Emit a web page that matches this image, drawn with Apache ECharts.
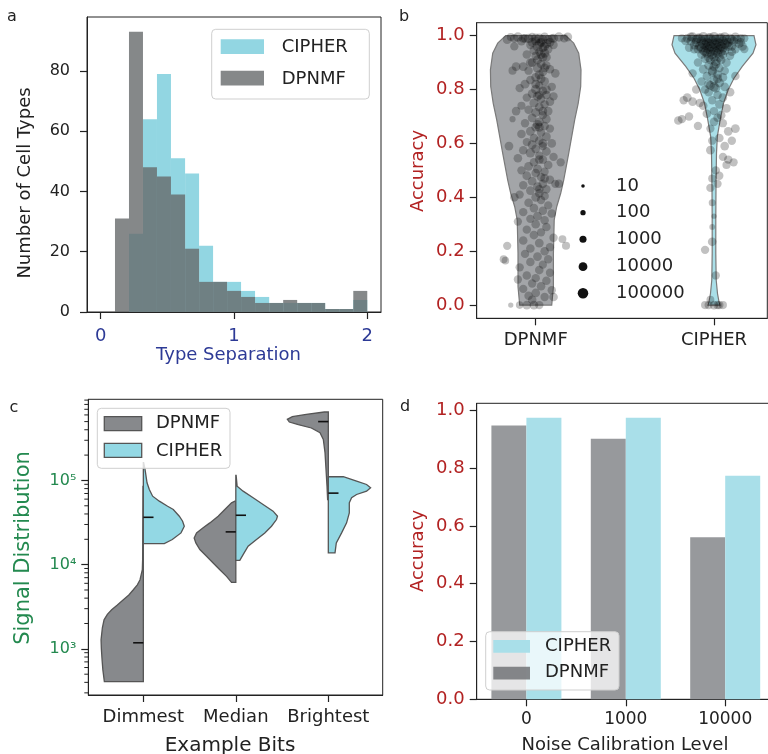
<!DOCTYPE html>
<html><head><meta charset="utf-8">
<script src="https://cdn.jsdelivr.net/npm/echarts@6/dist/echarts.min.js"></script>
<style>html,body{margin:0;padding:0;background:#fff}#c{width:768px;height:754px}</style>
</head><body><div id="c"></div><script>
// ---------- Panel a: histogram of type separation ----------
const histEdges = [0.107,0.212,0.317,0.422,0.527,0.633,0.738,0.843,0.948,1.053,1.158,1.264,1.369,1.474,1.579,1.684,1.789,1.895,2.0];
const histCIPHER = [0,26,64,79,51,46,22,10,10,7,5,3,3,3,3,1,1,4];
const histDPNMF  = [31,93,48,45,39,21,10,10,7,5,3,3,4,3,3,1,1,7];
const histXTicks = [0,1,2];
const histYTicks = [0,20,40,60,80];

// ---------- Panel b: accuracy violins + cell-type points ----------
const violinCats = ['DPNMF','CIPHER'];
const accTicks = [0,0.2,0.4,0.6,0.8,1.0];
// [accuracy, relative half width]
const violinDPNMF = [[0,16],[0.068,17.7],[0.192,17.7],[0.316,18.5],[0.365,21],[0.415,25],[0.464,28],[0.563,33],[0.625,36],[0.687,39],[0.749,42.5],[0.811,45],[0.873,45.3],[0.935,43],[0.972,38],[1.0,30]];
const violinCIPHER = [[0,6],[0.012,5],[0.043,3.5],[0.093,2.2],[0.192,1.8],[0.316,1.8],[0.44,2],[0.563,2.5],[0.625,3.3],[0.687,6.2],[0.749,9.5],[0.799,14.2],[0.842,20],[0.886,28.3],[0.935,39],[0.966,42],[1.0,40]];
// [jitter, accuracy, cells]
const pointsDPNMF = [
[-0.14,0.995,3000],[-0.10,0.995,20000],[-0.06,0.99,8000],[-0.02,0.995,5000],[0.02,0.99,30000],[0.05,0.995,10000],[0.09,0.99,4000],[0.13,0.995,20000],[0.16,0.99,6000],[-0.08,0.98,10000],[0.0,0.98,15000],[0.03,0.975,8000],[0.06,0.97,20000],[-0.03,0.965,6000],[0.01,0.96,40000],[0.04,0.955,10000],[0.07,0.95,8000],[-0.01,0.945,12000],[0.02,0.94,5000],[0.05,0.935,20000],[-0.05,0.93,7000],[0.0,0.925,9000],[0.04,0.92,15000],[-0.12,0.96,5000],[0.1,0.965,6000],[-0.02,0.9,8000],[0.03,0.895,12000],[0.06,0.89,5000],[-0.07,0.885,10000],[0.01,0.88,20000],[0.08,0.875,7000],[-0.11,0.885,10000],[-0.04,0.87,6000],[0.04,0.865,9000],[0.02,0.855,15000],[-0.13,0.87,4000],[0.11,0.86,8000],[0.0,0.845,10000],
[-0.04,0.99,20000],[0.0,0.99,30000],[0.04,0.985,20000],[0.07,0.985,15000],[-0.07,0.99,10000],[0.02,0.97,20000],[0.05,0.96,15000],[-0.02,0.975,15000],[0.08,0.975,10000],[0.03,0.93,15000],[0.06,0.92,10000],[0.01,0.91,15000],[-0.03,0.9,10000],[0.05,0.88,10000],[0.1,0.99,15000],[-0.12,0.99,8000],[0.18,0.995,10000],[-0.16,0.985,10000],
[-0.03,0.835,7000],[0.05,0.83,9000],[-0.06,0.82,12000],[0.02,0.815,5000],[0.09,0.81,6000],[0.0,0.8,20000],[-0.09,0.805,5000],[0.04,0.795,8000],[0.03,0.84,12000],[0.0,0.82,10000],[0.06,0.8,10000],
[-0.02,0.785,10000],[0.06,0.78,7000],[0.01,0.775,12000],[0.1,0.775,5000],[-0.05,0.77,6000],[0.03,0.765,9000],[0.08,0.755,8000],[-0.01,0.75,15000],[0.05,0.745,6000],[-0.08,0.74,4000],[0.02,0.735,10000],[-0.04,0.725,7000],[0.07,0.72,9000],[0.0,0.715,12000],[-0.11,0.72,8000],[0.04,0.705,6000],[0.02,0.78,12000],[0.04,0.72,10000],
[-0.02,0.695,10000],[0.06,0.69,8000],[0.02,0.68,12000],[-0.06,0.675,6000],[0.01,0.67,20000],[0.05,0.665,7000],[-0.13,0.69,300],[0.0,0.66,9000],[0.08,0.655,5000],[-0.03,0.645,11000],[0.03,0.64,6000],[-0.08,0.635,8000],[0.06,0.625,10000],[-0.01,0.62,7000],[0.02,0.61,9000],[-0.05,0.605,5000],[0.09,0.6,8000],[0.02,0.66,12000],[0.04,0.6,10000],
[-0.15,0.59,10000],[-0.02,0.595,12000],[0.04,0.59,6000],[0.0,0.58,9000],[-0.07,0.575,7000],[0.06,0.57,10000],[-0.03,0.565,20000],[0.02,0.555,5000],[0.1,0.55,6000],[-0.1,0.545,8000],[0.04,0.54,9000],[-0.01,0.53,7000],[0.14,0.53,5000],[0.07,0.52,8000],[-0.04,0.515,10000],[0.01,0.505,12000],[-0.08,0.5,6000],[0.05,0.495,5000],[0.02,0.54,10000],
[0.0,0.49,8000],[-0.05,0.48,10000],[0.03,0.475,7000],[0.08,0.465,6000],[-0.02,0.46,9000],[0.11,0.45,5000],[0.04,0.45,8000],[-0.07,0.445,6000],[0.13,0.45,7000],[0.01,0.44,10000],[0.06,0.43,6000],[-0.03,0.425,8000],[0.02,0.415,9000],[-0.09,0.41,5000],[0.05,0.405,7000],[-0.12,0.4,8000],[0.0,0.4,10000],[0.05,0.47,9000],[0.02,0.43,8000],
[0.03,0.39,6000],[-0.04,0.38,8000],[0.07,0.37,5000],[-0.01,0.36,9000],[0.04,0.35,7000],[-0.07,0.345,6000],[0.09,0.34,8000],[0.01,0.33,10000],[-0.03,0.32,6000],[0.05,0.315,7000],[-0.1,0.31,5000],[0.0,0.3,8000],
[0.06,0.29,7000],[-0.05,0.28,6000],[0.03,0.27,5000],[-0.01,0.26,9000],[0.1,0.25,6000],[0.15,0.245,3000],[-0.07,0.24,7000],[0.02,0.23,10000],[-0.16,0.22,5000],[0.17,0.22,4000],[0.08,0.215,6000],[-0.03,0.21,8000],[-0.18,0.17,3000],[-0.17,0.165,2000],[0.05,0.2,7000],
[-0.06,0.19,6000],[0.01,0.18,9000],[0.07,0.17,6000],[-0.03,0.16,7000],[0.04,0.15,5000],[-0.09,0.14,6000],[0.02,0.13,8000],[0.08,0.12,5000],[-0.05,0.11,7000],[0.0,0.1,6000],
[-0.1,0.095,5000],[0.06,0.09,7000],[-0.02,0.08,6000],[0.03,0.07,8000],[-0.07,0.06,5000],[0.09,0.055,6000],[0.0,0.045,9000],[-0.04,0.035,7000],[0.05,0.03,6000],[-0.02,0.02,8000],[-0.09,0.0,2000],[-0.05,0.0,8000],[-0.01,0.0,10000],[0.02,0.0,6000],[-0.14,0.0,100],[0.1,0.03,8000]];
const pointsCIPHER = [
[-0.15,0.99,8000],[-0.12,0.995,20000],[-0.09,0.99,30000],[-0.06,0.995,40000],[-0.03,0.99,50000],[0.0,0.995,60000],[0.03,0.99,40000],[0.06,0.995,30000],[0.09,0.99,20000],[0.12,0.995,10000],[0.15,0.99,6000],
[-0.13,0.98,10000],[-0.1,0.975,20000],[-0.07,0.98,30000],[-0.04,0.975,40000],[-0.01,0.98,50000],[0.02,0.975,40000],[0.05,0.98,30000],[0.08,0.975,20000],[0.11,0.98,10000],[0.14,0.97,8000],
[-0.11,0.965,15000],[-0.08,0.96,20000],[-0.05,0.965,30000],[-0.02,0.96,40000],[0.01,0.965,30000],[0.04,0.96,20000],[0.07,0.965,15000],[0.1,0.96,10000],[0.17,0.95,6000],
[-0.09,0.95,10000],[-0.06,0.945,20000],[-0.03,0.95,30000],[0.0,0.945,25000],[0.03,0.95,20000],[0.06,0.945,15000],[-0.14,0.955,5000],[0.12,0.95,8000],
[-0.07,0.93,10000],[-0.04,0.935,20000],[-0.01,0.93,30000],[0.02,0.935,15000],[0.05,0.93,10000],[0.09,0.925,6000],
[-0.05,0.915,10000],[-0.02,0.91,15000],[0.01,0.905,50000],[0.04,0.91,10000],[-0.09,0.9,6000],[0.07,0.9,8000],
[-0.08,0.99,40000],[-0.05,0.985,50000],[-0.02,0.99,60000],[0.01,0.985,60000],[0.04,0.99,50000],[0.07,0.985,40000],[-0.06,0.97,50000],[-0.03,0.97,60000],[0.0,0.97,60000],[0.03,0.97,50000],[0.06,0.97,40000],[-0.07,0.955,30000],[-0.04,0.955,40000],[-0.01,0.955,50000],[0.02,0.955,40000],[0.05,0.955,30000],[-0.1,0.985,20000],[0.1,0.985,20000],[-0.13,0.995,10000],[0.13,0.985,10000],[-0.02,0.94,30000],[0.01,0.94,30000],[0.04,0.94,20000],[-0.05,0.94,20000],[0.0,0.92,20000],[-0.03,0.92,20000],[0.03,0.92,15000],[0.01,0.895,20000],[-0.01,0.87,15000],[0.02,0.84,15000],[-0.03,0.82,10000],[0.0,0.81,20000],[0.08,0.96,20000],[-0.11,0.95,10000],[0.1,0.94,8000],[0.15,0.975,8000],[-0.16,0.98,6000],[0.17,0.99,5000],[-0.18,0.99,4000],[0.16,0.96,10000],
[-0.03,0.89,10000],[0.0,0.885,15000],[0.03,0.88,8000],[-0.06,0.875,12000],[0.06,0.87,7000],[-0.01,0.865,20000],[0.02,0.855,10000],[-0.04,0.85,8000],[0.05,0.845,9000],[-0.12,0.86,6000],[0.12,0.85,7000],[0.0,0.835,15000],[-0.07,0.83,6000],[0.03,0.825,20000],[-0.02,0.815,10000],[0.06,0.81,8000],[-0.05,0.8,7000],[0.01,0.805,12000],[0.09,0.79,10000],[-0.1,0.8,6000],
[-0.15,0.77,10000],[-0.17,0.76,6000],[-0.12,0.755,8000],[-0.08,0.75,6000],[-0.03,0.79,8000],[0.02,0.78,7000],[0.05,0.77,9000],[-0.01,0.76,6000],[0.03,0.745,8000],[-0.06,0.74,7000],[0.07,0.73,10000],[0.0,0.72,6000],[-0.04,0.71,8000],[0.04,0.705,9000],[0.02,0.695,7000],[-0.14,0.7,6000],[-0.2,0.685,8000],[-0.18,0.69,5000],
[0.0,0.68,7000],[0.05,0.675,5000],[-0.09,0.665,6000],[-0.02,0.655,5000],[0.08,0.645,9000],[0.12,0.655,10000],[0.03,0.62,8000],[-0.01,0.61,5000],[0.1,0.61,6000],
[-0.02,0.575,10000],[0.06,0.59,9000],[0.05,0.55,5000],[0.08,0.54,6000],[0.11,0.53,5000],[0.07,0.52,4000],[0.01,0.5,6000],
[0.03,0.48,5000],[-0.01,0.47,4000],[0.02,0.45,5000],[-0.02,0.435,6000],
[-0.01,0.38,1000],[0.0,0.33,100],[-0.01,0.29,200],[-0.05,0.205,6000],[-0.01,0.235,9000],[0.01,0.11,5000],[-0.02,0.02,3000],[-0.03,0.0,5000],[0.0,0.0,8000],[0.03,0.0,6000],[0.05,0.0,4000],[-0.05,0.0,4000],[0.02,0.0,7000]];
const sizeLegendCells = [10,100,1000,10000,100000];

// ---------- Panel c: split violins of signal (log10 signal, relative half width) ----------
const bitCats = ['Dimmest','Median','Brightest'];
const signalTicks = [1e3,1e4,1e5];
const signalMinorTicks = [300,400,500,600,700,800,900,2000,3000,4000,5000,6000,7000,8000,9000,20000,30000,40000,50000,60000,70000,80000,90000,200000,300000,400000,500000,600000,700000,800000,900000];
const splitDPNMF = [
 [[2.611,39],[2.75,40.5],[2.87,41.3],[3.0,42],[3.107,42.3],[3.25,41],[3.345,39.3],[3.41,36],[3.464,31.7],[3.52,26],[3.583,20],[3.64,14.5],[3.702,10],[3.76,6],[3.821,3.3],[3.94,1],[4.06,0.7],[4.5,0.5],[4.93,0.3]],
 [[3.79,4.3],[3.861,9.3],[3.94,16],[4.02,22.7],[4.099,29.3],[4.179,36],[4.258,40],[4.317,41.7],[4.377,39.3],[4.437,32.7],[4.496,26],[4.575,17.7],[4.655,11],[4.734,4.3],[4.754,1]],
 [[4.774,0.7],[4.932,1.3],[5.131,2.3],[5.33,3.3],[5.488,5],[5.568,8.3],[5.623,17],[5.663,30],[5.694,39],[5.726,41],[5.758,36],[5.786,22],[5.813,4]]];
const splitCIPHER = [
 [[4.25,21],[4.298,29],[4.377,37.7],[4.456,41],[4.516,39.3],[4.575,36],[4.655,30],[4.694,24.3],[4.754,16],[4.813,9.3],[4.893,6],[4.972,3.7],[5.131,1.7],[5.211,0.3]],
 [[4.051,4],[4.119,7.3],[4.218,12.3],[4.298,20.7],[4.377,29],[4.456,35.7],[4.536,40.7],[4.575,41.7],[4.635,37.3],[4.714,27.3],[4.794,17.3],[4.873,7.3],[4.932,1.3],[5.06,0.3]],
 [[4.139,6.7],[4.258,8],[4.377,13.3],[4.496,18.3],[4.615,21],[4.734,21],[4.794,23.3],[4.833,28.3],[4.873,38.3],[4.913,42.3],[4.952,38.3],[4.992,28.3],[5.044,15]]];
const medianDPNMF = [1180,24500,500000];
const medianCIPHER = [36500,38600,70700];

// ---------- Panel d: accuracy vs noise calibration ----------
const noiseLevels = ['0','1000','10000'];
const noiseAccDPNMF = [0.947,0.901,0.561];
const noiseAccCIPHER = [0.974,0.974,0.773];

// ---------- styling ----------
const FONT = 'DejaVu Sans';
const RED = '#b22222', BLUE = '#2d3a96', GREEN = '#23894f', INK = '#222';
const A_CYAN = '#92d6e2', A_GRAY = 'rgba(103,106,108,0.8)';
const B_GRAY = '#a3a5a8', B_CYAN = '#a9dfe8';
const C_GRAY = '#87898c', C_CYAN = '#93d8e4';
const D_GRAY = '#97999c', D_CYAN = '#a9dfe9';
const C_XMIN = -0.595;

function baseAxis(extra) {
  return Object.assign({
    axisLine: {show: true, onZero: false, lineStyle: {color: INK, width: 1}},
    axisTick: {show: true, length: 7, lineStyle: {color: INK, width: 1.2}},
    splitLine: {show: false},
    axisLabel: {fontFamily: FONT, color: INK, fontSize: 18}
  }, extra);
}
function tickAxis(gridIndex, type, min, max, ticks, label, extra) {
  const o = baseAxis(Object.assign({gridIndex, type, min, max}, extra || {}));
  o.axisTick = Object.assign({}, o.axisTick, {customValues: ticks});
  o.axisLabel = Object.assign({}, o.axisLabel, {customValues: ticks}, label);
  return o;
}
const cellSize = n => 1.8 + 1.75 * Math.log10(n);

function histRender(color) {
  return function (params, api) {
    const p0 = api.coord([api.value(0), api.value(2)]);
    const p1 = api.coord([api.value(1), 0]);
    return {type: 'rect', shape: {x: p0[0], y: p0[1], width: p1[0] - p0[0], height: p1[1] - p0[1]}, style: {fill: color}};
  };
}
const bMax = Math.max(...violinDPNMF.map(p => p[1]), ...violinCIPHER.map(p => p[1]));
const B_HALF = 0.254;
function fullViolinRender(prof, fill) {
  return function (params, api) {
    const cx = api.value(0);
    const right = prof.map(p => api.coord([cx + p[1] / bMax * B_HALF, p[0]]));
    const left = prof.slice().reverse().map(p => api.coord([cx - p[1] / bMax * B_HALF, p[0]]));
    return {type: 'polygon', shape: {points: right.concat(left)}, style: {fill, stroke: '#7a7a7a', lineWidth: 1.2}};
  };
}
const cMax = 42.3, C_HALF = 0.457;
function halfViolinRender(profs, side, fill) {
  return function (params, api) {
    const i = api.value(0);
    const prof = profs[i];
    const pts = [api.coord([i, Math.pow(10, prof[0][0])])];
    prof.forEach(p => pts.push(api.coord([i + side * p[1] / cMax * C_HALF, Math.pow(10, p[0])])));
    pts.push(api.coord([i, Math.pow(10, prof[prof.length - 1][0])]));
    return {type: 'polygon', shape: {points: pts}, style: {fill, stroke: '#555', lineWidth: 1.3}};
  };
}
function medianRender(side) {
  return function (params, api) {
    const i = api.value(0), v = api.value(1);
    const a = api.coord([i, v]), b = api.coord([i + side * 0.11, v]);
    return {type: 'line', shape: {x1: a[0], y1: a[1], x2: b[0], y2: b[1]}, style: {stroke: '#111', lineWidth: 1.6}};
  };
}
function minorTickRender(params, api) {
  const p = api.coord([C_XMIN, api.value(1)]);
  return {type: 'line', shape: {x1: p[0] - 4, y1: p[1], x2: p[0], y2: p[1]}, style: {stroke: INK, lineWidth: 1}};
}

function txt(text, x, y, opts) {
  opts = opts || {};
  const el = {type: 'text', x, y, silent: true, style: {
    text, font: (opts.size || 18) + 'px "DejaVu Sans"', fill: opts.color || INK,
    textAlign: opts.align || 'center', textVerticalAlign: 'middle',
    align: opts.align || 'center', verticalAlign: 'middle'}};
  if (opts.rot) el.rotation = opts.rot;
  if (opts.z) el.z = opts.z;
  return el;
}
function legendBox(x, y, w, h, alpha) {
  return {type: 'rect', shape: {x, y, width: w, height: h, r: 4}, style: {fill: 'rgba(255,255,255,' + alpha + ')', stroke: '#cfcfcf', lineWidth: 1}, z: 10};
}
function patch(x, y, w, h, fill, stroke) {
  return {type: 'rect', shape: {x, y, width: w, height: h}, style: {fill, stroke: stroke || null, lineWidth: stroke ? 1.3 : 0}, z: 11};
}
const graphics = [
  txt('a', 12, 17, {size: 16}), txt('b', 404, 17, {size: 16}), txt('c', 14, 408, {size: 16}), txt('d', 405, 407, {size: 16}),
  txt('Number of Cell Types', 25.5, 183, {rot: Math.PI / 2}),
  txt('Type Separation', 228.5, 355, {color: BLUE}),
  txt('Accuracy', 418, 171, {rot: Math.PI / 2, color: RED}),
  txt('Signal Distribution', 23.5, 548, {rot: Math.PI / 2, color: GREEN, size: 21}),
  txt('Example Bits', 230, 746, {size: 20}),
  txt('Accuracy', 418, 551, {rot: Math.PI / 2, color: RED}),
  txt('Noise Calibration Level', 625, 745),
  legendBox(211.7, 29.3, 157.6, 69.7, 0.8),
  patch(220.7, 39.3, 43.3, 14.7, A_CYAN), patch(220.7, 70.7, 43.3, 14.7, A_GRAY),
  txt('CIPHER', 281.7, 47.7, {align: 'left', z: 12}),
  txt('DPNMF', 281.7, 79, {align: 'left', z: 12}),
  legendBox(97.3, 408.3, 132.7, 60, 0.8),
  patch(104.3, 416.7, 37.4, 14, C_GRAY, '#555'), patch(104.3, 443.3, 37.4, 14, C_CYAN, '#555'),
  txt('DPNMF', 156, 423.3, {align: 'left', z: 12}),
  txt('CIPHER', 156, 451, {align: 'left', z: 12}),
  legendBox(485.7, 631.7, 133.3, 58.3, 0.75),
  patch(493.3, 640, 36.7, 12.7, D_CYAN), patch(493.3, 666.7, 36.7, 12.7, 'rgba(120,122,125,0.9)'),
  txt('CIPHER', 545, 646, {align: 'left', z: 12}),
  txt('DPNMF', 545, 672.7, {align: 'left', z: 12})
];
const sizeLegendY = [186, 212.7, 239.3, 266.7, 293.3];
sizeLegendCells.forEach((n, i) => {
  graphics.push({type: 'circle', shape: {cx: 583, cy: sizeLegendY[i], r: cellSize(n) / 2}, style: {fill: '#111'}, z: 12});
  graphics.push(txt(String(n), 616, sizeLegendY[i], {align: 'left', z: 12}));
});

const gridCommon = {show: true, borderColor: INK, borderWidth: 1, backgroundColor: 'transparent', containLabel: false, outerBoundsMode: 'none'};
const option = {
  animation: false,
  backgroundColor: '#fff',
  textStyle: {fontFamily: FONT},
  grid: [
    Object.assign({left: 87, top: 17, width: 294, height: 295}, gridCommon),
    Object.assign({left: 476.7, top: 22.7, width: 290.6, height: 295.6}, gridCommon),
    Object.assign({left: 88.3, top: 399.3, width: 294.4, height: 295.7}, gridCommon),
    Object.assign({left: 476.7, top: 403.3, width: 298.2, height: 296}, gridCommon)
  ],
  xAxis: [
    tickAxis(0, 'value', -0.103, 2.103, histXTicks, {color: BLUE, fontSize: 18, margin: 15}),
    tickAxis(1, 'value', -0.331, 1.299, [0, 1], {formatter: v => violinCats[Math.round(v)], margin: 13}),
    tickAxis(2, 'value', C_XMIN, 2.588, [0, 1, 2], {formatter: v => bitCats[Math.round(v)], margin: 13}),
    baseAxis({gridIndex: 3, type: 'category', data: noiseLevels, boundaryGap: true,
      axisTick: {show: true, length: 7, alignWithLabel: true, lineStyle: {color: INK, width: 1.2}},
      axisLabel: {fontFamily: FONT, color: INK, fontSize: 17, margin: 12}})
  ],
  yAxis: [
    tickAxis(0, 'value', 0, 97.9, histYTicks, {fontSize: 16, margin: 17}),
    tickAxis(1, 'value', -0.049, 1.048, accTicks, {color: RED, formatter: v => v.toFixed(1), margin: 12}),
    tickAxis(2, 'log', 283, 920000, signalTicks, {color: GREEN, fontSize: 16, margin: 12,
      formatter: v => '10' + ({3: '³', 4: '⁴', 5: '⁵'})[Math.round(Math.log10(v))]}, {logBase: 10}),
    tickAxis(3, 'value', 0, 1.024, accTicks, {color: RED, formatter: v => v.toFixed(1), margin: 12})
  ],
  graphic: {elements: graphics},
  series: [
    {type: 'custom', name: 'CIPHER', xAxisIndex: 0, yAxisIndex: 0, renderItem: histRender(A_CYAN),
     data: histCIPHER.map((c, i) => [histEdges[i], histEdges[i + 1], c]), encode: {x: [0, 1], y: 2}},
    {type: 'custom', name: 'DPNMF', xAxisIndex: 0, yAxisIndex: 0, renderItem: histRender(A_GRAY),
     data: histDPNMF.map((c, i) => [histEdges[i], histEdges[i + 1], c]), encode: {x: [0, 1], y: 2}},
    {type: 'custom', name: 'DPNMF violin', xAxisIndex: 1, yAxisIndex: 1, z: 1, renderItem: fullViolinRender(violinDPNMF, B_GRAY), data: [[0, 0.5]]},
    {type: 'custom', name: 'CIPHER violin', xAxisIndex: 1, yAxisIndex: 1, z: 1, renderItem: fullViolinRender(violinCIPHER, B_CYAN), data: [[1, 0.5]]},
    {type: 'scatter', name: 'DPNMF cells', xAxisIndex: 1, yAxisIndex: 1, z: 3,
     data: pointsDPNMF.map(p => [0 + p[0], p[1], p[2]]), symbolSize: v => cellSize(v[2]),
     itemStyle: {color: 'rgba(0,0,0,0.3)'}},
    {type: 'scatter', name: 'CIPHER cells', xAxisIndex: 1, yAxisIndex: 1, z: 3,
     data: pointsCIPHER.map(p => [1 + p[0], p[1], p[2]]), symbolSize: v => cellSize(v[2]),
     itemStyle: {color: 'rgba(0,0,0,0.3)'}},
    {type: 'custom', name: 'DPNMF split', xAxisIndex: 2, yAxisIndex: 2, z: 2, renderItem: halfViolinRender(splitDPNMF, -1, C_GRAY), data: [[0, 1e4], [1, 1e4], [2, 1e4]]},
    {type: 'custom', name: 'CIPHER split', xAxisIndex: 2, yAxisIndex: 2, z: 2, renderItem: halfViolinRender(splitCIPHER, 1, C_CYAN), data: [[0, 1e4], [1, 1e4], [2, 1e4]]},
    {type: 'custom', name: 'DPNMF median', xAxisIndex: 2, yAxisIndex: 2, z: 4, renderItem: medianRender(-1), data: medianDPNMF.map((m, i) => [i, m])},
    {type: 'custom', name: 'CIPHER median', xAxisIndex: 2, yAxisIndex: 2, z: 4, renderItem: medianRender(1), data: medianCIPHER.map((m, i) => [i, m])},
    {type: 'custom', name: 'minor ticks', xAxisIndex: 2, yAxisIndex: 2, z: 5, clip: false, renderItem: minorTickRender, data: signalMinorTicks.map(v => [C_XMIN, v])},
    {type: 'bar', name: 'DPNMF', xAxisIndex: 3, yAxisIndex: 3, data: noiseAccDPNMF, barWidth: 35, barGap: '0%', itemStyle: {color: D_GRAY}},
    {type: 'bar', name: 'CIPHER', xAxisIndex: 3, yAxisIndex: 3, data: noiseAccCIPHER, barWidth: 35, barGap: '0%', itemStyle: {color: D_CYAN}}
  ]
};
const chart = echarts.init(document.getElementById('c'), null, {renderer: 'canvas'});
chart.setOption(option);
</script></body></html>
